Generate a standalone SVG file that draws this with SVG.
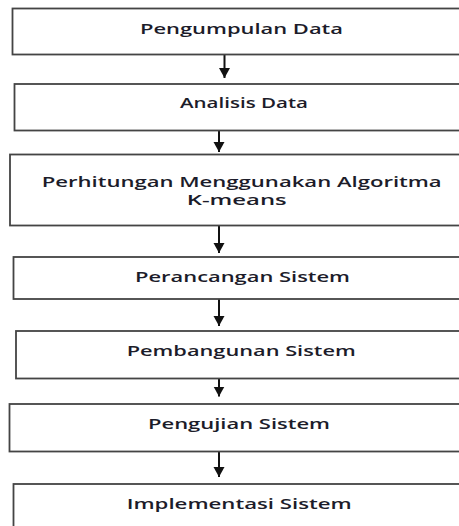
<svg xmlns="http://www.w3.org/2000/svg" width="459" height="526" viewBox="0 0 459 526">
<style>
.box{fill:#fff;stroke:#444;stroke-width:1.8}
.lbl{font-family:"Open Sans","Liberation Sans",sans-serif;font-size:15px;font-weight:600;fill:#1c1c2a}
.con{stroke:#111;stroke-width:2;fill:none;marker-end:url(#ah)}
</style>
<defs>
<marker id="ah" markerUnits="userSpaceOnUse" markerWidth="11" markerHeight="12" refX="10" refY="6" orient="auto" viewBox="0 0 11 12">
<polygon points="0,0.5 10,6 0,11.5" fill="#111"/>
</marker>
</defs>
<rect width="459" height="526" fill="#fff"/>
<g id="connectors">
<line class="con" x1="224.5" y1="54.5" x2="224.5" y2="78"/>
<line class="con" x1="219" y1="130.5" x2="219" y2="152"/>
<line class="con" x1="219" y1="225.5" x2="219" y2="253"/>
<line class="con" x1="219" y1="299" x2="219" y2="326"/>
<line class="con" x1="219" y1="378.5" x2="219" y2="396.5"/>
<line class="con" x1="219" y1="451.5" x2="219" y2="477"/>
</g>
<g id="n1"><rect class="box" x="12.5" y="8.5" width="460" height="46"/><text class="lbl" x="140" y="34" textLength="203" lengthAdjust="spacingAndGlyphs">Pengumpulan Data</text></g>
<g id="n2"><rect class="box" x="14.5" y="84" width="460" height="46.5"/><text class="lbl" x="180" y="108.3" textLength="128" lengthAdjust="spacingAndGlyphs">Analisis Data</text></g>
<g id="n3"><rect class="box" x="10" y="154.5" width="460" height="71"/><text class="lbl" x="41.7" y="186.5" textLength="400" lengthAdjust="spacingAndGlyphs">Perhitungan Menggunakan Algoritma</text><text class="lbl" x="186.7" y="205" textLength="100" lengthAdjust="spacingAndGlyphs">K-means</text></g>
<g id="n4"><rect class="box" x="13.5" y="257" width="460" height="42"/><text class="lbl" x="135" y="282" textLength="215" lengthAdjust="spacingAndGlyphs">Perancangan Sistem</text></g>
<g id="n5"><rect class="box" x="16" y="331" width="460" height="47.5"/><text class="lbl" x="126.7" y="356" textLength="229" lengthAdjust="spacingAndGlyphs">Pembangunan Sistem</text></g>
<g id="n6"><rect class="box" x="9.5" y="404" width="460" height="47.5"/><text class="lbl" x="148" y="428.5" textLength="182" lengthAdjust="spacingAndGlyphs">Pengujian Sistem</text></g>
<g id="n7"><rect class="box" x="13.5" y="484" width="460" height="60"/><text class="lbl" x="126.7" y="508.5" textLength="225" lengthAdjust="spacingAndGlyphs">Implementasi Sistem</text></g>
</svg>
